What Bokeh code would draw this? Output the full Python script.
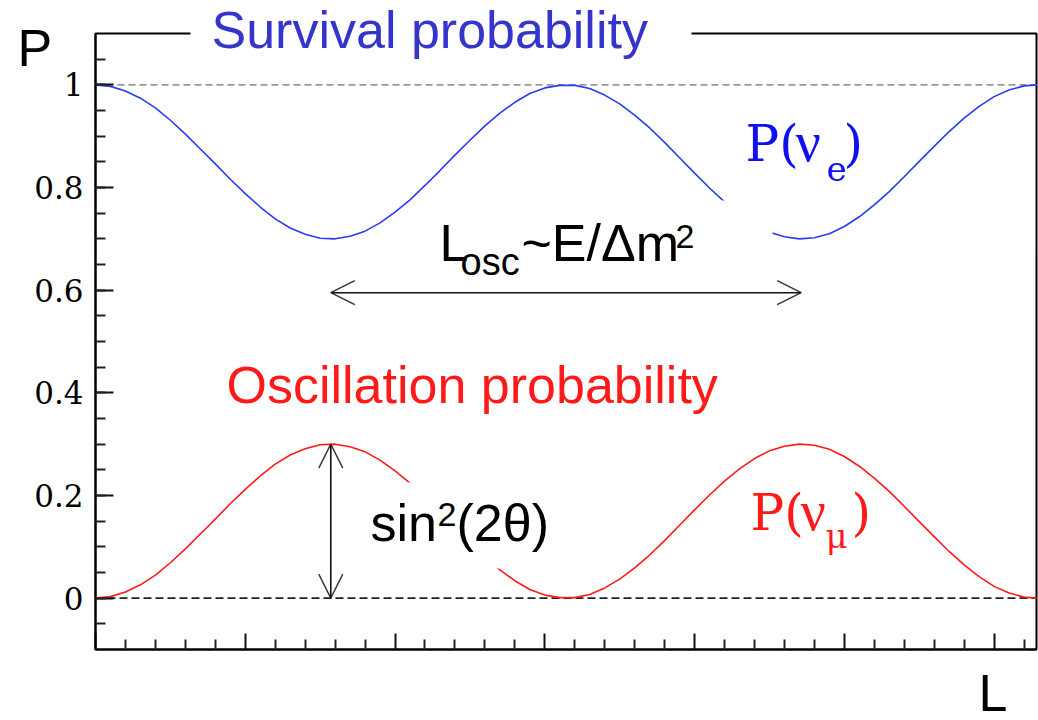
from bokeh.plotting import figure
from bokeh.models import Label, Arrow, OpenHead, FixedTicker, Range1d, BoxAnnotation
from bokeh.embed import file_html
from bokeh.resources import INLINE

# ---- data ----
L = [0.0, 0.1, 0.2, 0.3, 0.4, 0.5, 0.6, 0.7, 0.8, 0.9, 1.0, 1.1, 1.2, 1.3, 1.4, 1.5,
     1.6, 1.7, 1.8, 1.9, 2.0, 2.1, 2.2, 2.3, 2.4, 2.5, 2.6, 2.7, 2.8, 2.9, 3.0, 3.1,
     3.2, 3.3, 3.4, 3.5, 3.6, 3.7, 3.8, 3.9, 4.0, 4.1, 4.2, 4.3, 4.4, 4.5, 4.6, 4.7,
     4.8, 4.9, 5.0, 5.1, 5.2, 5.3, 5.4, 5.5, 5.6, 5.7, 5.8, 5.9, 6.0, 6.1, 6.2, 6.283]
p_e = [1.000, 0.997, 0.988, 0.974, 0.955, 0.931, 0.904, 0.875, 0.846, 0.816, 0.788,
       0.762, 0.739, 0.721, 0.709, 0.701, 0.700, 0.705, 0.715, 0.731, 0.752, 0.776,
       0.804, 0.833, 0.863, 0.892, 0.920, 0.945, 0.966, 0.983, 0.994, 0.999, 0.999,
       0.993, 0.980, 0.963, 0.941, 0.916, 0.888, 0.858, 0.828, 0.799, 0.772, 0.748,
       0.728, 0.713, 0.704, 0.700, 0.702, 0.710, 0.724, 0.743, 0.766, 0.792, 0.821,
       0.851, 0.880, 0.909, 0.935, 0.958, 0.977, 0.990, 0.998, 1.000]
p_mu = [0.000, 0.003, 0.012, 0.026, 0.045, 0.069, 0.096, 0.125, 0.154, 0.184, 0.212,
        0.238, 0.261, 0.279, 0.291, 0.299, 0.300, 0.295, 0.285, 0.269, 0.248, 0.224,
        0.196, 0.167, 0.137, 0.108, 0.080, 0.055, 0.034, 0.017, 0.006, 0.001, 0.001,
        0.007, 0.020, 0.037, 0.059, 0.084, 0.112, 0.142, 0.172, 0.201, 0.228, 0.252,
        0.272, 0.287, 0.296, 0.300, 0.298, 0.290, 0.276, 0.257, 0.234, 0.208, 0.179,
        0.149, 0.120, 0.091, 0.065, 0.042, 0.023, 0.010, 0.002, 0.000]
y_ticks = [0, 0.2, 0.4, 0.6, 0.8, 1]
y_tick_labels = ["0", "0.2", "0.4", "0.6", "0.8", "1"]
y_minor = [-0.05, 0, 0.05, 0.1, 0.15, 0.2, 0.25, 0.3, 0.35, 0.4, 0.45, 0.5, 0.55,
           0.6, 0.65, 0.7, 0.75, 0.8, 0.85, 0.9, 0.95, 1.0, 1.05]
x_major = [0, 1, 2, 3, 4, 5, 6]
x_minor = [0.2, 0.4, 0.6, 0.8, 1.2, 1.4, 1.6, 1.8, 2.2, 2.4, 2.6, 2.8, 3.2, 3.4,
           3.6, 3.8, 4.2, 4.4, 4.6, 4.8, 5.2, 5.4, 5.6, 5.8, 6.2]
arrow_L = [1.571, 4.712]     # one oscillation length, minimum to minimum of P(nu_e)
arrow_y = 0.595
amplitude = 0.30             # sin^2(2 theta)

# ---- layout: plot box (in window pixels) and its data limits ----
W, H = 1038, 720
FL, FR, FT, FB = 95, 1036, 33, 649
x0, x1 = 0.0, 6.2832
y0, y1 = -0.1, 1.1


def X(px):
    return x0 + (px - FL) * (x1 - x0) / (FR - FL)


def Y(py):
    return y1 - (py - FT) * (y1 - y0) / (FB - FT)


p = figure(width=W, height=H, x_range=Range1d(X(0), X(W)), y_range=Range1d(Y(H), Y(0)),
           output_backend="svg", toolbar_location=None, min_border=0,
           background_fill_color="white", border_fill_color="white",
           outline_line_color=None)
p.grid.visible = False

# frame box
p.quad(left=[x0], right=[x1], bottom=[y0], top=[y1], fill_color=None,
       line_color="black", line_width=2)

# axes (fixed onto the plot box edges)
ya = p.yaxis[0]
ya.fixed_location = x0
ya.bounds = (y0, y1)
ya.ticker = FixedTicker(ticks=y_ticks, minor_ticks=y_minor)
ya.major_label_overrides = {t: s for t, s in zip(y_ticks, y_tick_labels)}
ya.major_label_text_font = "DejaVu Serif"
ya.major_label_text_font_size = "31px"
ya.major_label_text_color = "black"
ya.major_label_standoff = 12
ya.major_tick_in = 18
ya.major_tick_out = 0
ya.minor_tick_in = 10
ya.minor_tick_out = 0
ya.axis_line_width = 2
ya.major_tick_line_width = 2
ya.minor_tick_line_width = 2
ya.axis_line_color = "black"
ya.major_tick_line_color = "#111111"
ya.minor_tick_line_color = "#222222"

xa = p.xaxis[0]
xa.fixed_location = y0
xa.bounds = (x0, x1)
xa.ticker = FixedTicker(ticks=x_major, minor_ticks=x_minor)
xa.major_label_overrides = {t: "" for t in x_major}
xa.major_tick_in = 16
xa.major_tick_out = 0
xa.minor_tick_in = 10
xa.minor_tick_out = 0
xa.axis_line_width = 2
xa.major_tick_line_width = 2
xa.minor_tick_line_width = 2
xa.axis_line_color = "black"
xa.major_tick_line_color = "#111111"
xa.minor_tick_line_color = "#222222"

# dashed reference lines across the plot box
p.line([x0, x1], [1, 1], line_color="#999999", line_width=1.6, line_dash="7 4")
p.line([x0, x1], [0, 0], line_color="#222222", line_width=1.6, line_dash="8 4")

# curves
p.line(L, p_e, line_color="#2a3cf0", line_width=1.6)
p.line(L, p_mu, line_color="#ff1a1a", line_width=1.6)

# arrows
def head():
    return OpenHead(size=24, line_width=1.4, line_color="#333333")

p.add_layout(Arrow(start=head(), end=head(), x_start=arrow_L[0], y_start=arrow_y,
                   x_end=arrow_L[1], y_end=arrow_y, line_width=1.6, line_color="#111111"))
p.add_layout(Arrow(start=head(), end=head(), x_start=arrow_L[0], y_start=0,
                   x_end=arrow_L[0], y_end=amplitude, line_width=1.6, line_color="#111111"))


def box(l, r, t, b):
    p.add_layout(BoxAnnotation(left=X(l), right=X(r), top=Y(t), bottom=Y(b),
                               fill_color="white", fill_alpha=1.0,
                               line_color=None, line_alpha=0))


def lab(text, px, base_py, size, color, font="Liberation Sans"):
    # base_py: wanted baseline (window px); Bokeh draws alphabetic text ~0.37em low
    p.add_layout(Label(x=X(px), y=Y(base_py - 0.37 * size), text=text, text_font=font,
                       text_font_size=f"{size}px", text_color=color,
                       text_baseline="alphabetic", text_align="left"))


# white boxes behind texts
box(190, 691, 0, 72)
box(413, 772, 200, 285)
box(345, 570, 482, 568)

# titles
lab("Survival probability", 211, 49, 52, "#3535cc")
lab("Oscillation probability", 226, 404, 52, "#ff1a1a")

# L_osc ~ E / Delta m^2
lab("L", 439, 262, 52, "black")
lab("osc", 460, 276, 38, "black")
lab("~E/\u0394m", 521, 262, 52, "black")
lab("2", 675, 249, 34, "black")

# sin^2(2 theta)
lab("sin", 370, 542, 52, "black")
lab("2", 437, 527, 34, "black")
lab("(2\u03b8)", 456, 542, 52, "black")

# P(nu_e), P(nu_mu)
lab("P(", 745, 162, 50, "#1010ee", font="DejaVu Serif")
lab("\u03bd", 795, 162, 56, "#1010ee", font="Liberation Serif")
lab("e", 826, 181, 34, "#1010ee", font="DejaVu Serif")
lab(")", 843, 162, 50, "#1010ee", font="DejaVu Serif")
lab("P(", 750, 531, 50, "#ff1a1a", font="DejaVu Serif")
lab("\u03bd", 800, 531, 56, "#ff1a1a", font="Liberation Serif")
lab("\u03bc", 825, 548, 34, "#ff1a1a", font="DejaVu Serif")
lab(")", 851, 531, 50, "#ff1a1a", font="DejaVu Serif")

# axis names
lab("P", 17, 67, 52, "black")
lab("L", 978, 712, 52, "black")

open("out.html", "w").write(file_html(p, INLINE))
